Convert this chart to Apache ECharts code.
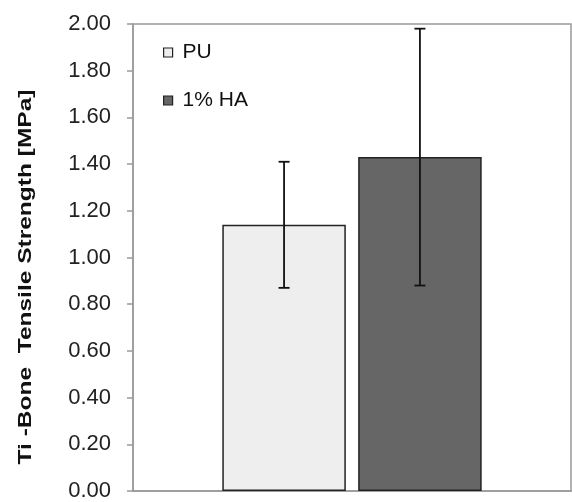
<!DOCTYPE html>
<html>
<head>
<meta charset="utf-8">
<script src="https://cdn.jsdelivr.net/npm/echarts@6/dist/echarts.min.js"></script>
<style>html,body{margin:0;padding:0;background:#fff;}#c{width:572px;height:502px;}</style>
</head>
<body>
<div id="c"></div>
<script>
var categories = [''];
var seriesNames = ['PU', '1% HA'];
var puValues = [1.14];
var haValues = [1.43];
var puErrors = [0.27];
var haErrors = [0.55];
var yTicks = [0, 0.2, 0.4, 0.6, 0.8, 1.0, 1.2, 1.4, 1.6, 1.8, 2.0];

var BAR_W = 0.282, BAR_GAP = 0.10;
function errSeries(name, vals, errs, idx) {
  return {
    type: 'custom',
    name: name + ' err',
    z: 10,
    silent: true,
    data: vals.map(function (v, i) { return [i, v, errs[i]]; }),
    renderItem: function (params, api) {
      var ci = api.value(0), v = api.value(1), e = api.value(2);
      var band = api.size([1, 0])[0];
      var bw = band * BAR_W, gap = bw * BAR_GAP;
      var total = 2 * bw + gap;
      var c = api.coord([ci, v]);
      var cx = c[0] - total / 2 + bw / 2 + idx * (bw + gap);
      var hi = api.coord([ci, v + e])[1], lo = api.coord([ci, v - e])[1];
      var cap = 5.5;
      var st = { stroke: '#111', lineWidth: 1.8 };
      return { type: 'group', children: [
        { type: 'line', shape: { x1: cx, y1: hi, x2: cx, y2: lo }, style: st },
        { type: 'line', shape: { x1: cx - cap, y1: hi, x2: cx + cap, y2: hi }, style: st },
        { type: 'line', shape: { x1: cx - cap, y1: lo, x2: cx + cap, y2: lo }, style: st }
      ]};
    }
  };
}

var chart = echarts.init(document.getElementById('c'));
chart.setOption({
  animation: false,
  backgroundColor: '#fff',
  textStyle: { fontFamily: 'Liberation Sans, Arial, sans-serif' },
  grid: { left: 133, right: 1, top: 24, bottom: 8, show: true, borderColor: '#999', borderWidth: 1.5 },
  legend: {
    orient: 'vertical', left: 158, top: 37, itemWidth: 9, itemHeight: 9, itemGap: 27,
    icon: 'rect',
    textStyle: { fontSize: 21, color: '#111', fontFamily: 'Liberation Sans, Arial, sans-serif', padding: [0, 0, 0, 5] },
    data: [
      { name: 'PU', itemStyle: { color: '#eeeeee', borderColor: '#222', borderWidth: 1.2 } },
      { name: '1% HA', itemStyle: { color: '#666666', borderColor: '#222', borderWidth: 1.2 } }
    ]
  },
  xAxis: {
    type: 'category', data: categories,
    axisLine: { lineStyle: { color: '#999', width: 1.5 } },
    axisTick: { show: false }, axisLabel: { show: false }
  },
  yAxis: {
    type: 'value', min: yTicks[0], max: yTicks[yTicks.length - 1], interval: 0.2,
    axisLine: { show: true, lineStyle: { color: '#999', width: 1.5 } },
    axisTick: { show: true, length: 6, lineStyle: { color: '#999', width: 1.5 } },
    splitLine: { show: false },
    axisLabel: { fontSize: 22, color: '#222', margin: 22, formatter: function (v) { return v.toFixed(2); } }
  },
  graphic: [{
    type: 'text', x: 26, y: 277, rotation: Math.PI / 2, scaleX: 1.29,
    style: { text: 'Ti -Bone  Tensile Strength [MPa]', fontSize: 19, fontWeight: 'bold', fill: '#111',
      fontFamily: 'Liberation Sans, Arial, sans-serif', textAlign: 'center', textVerticalAlign: 'middle' }
  }],
  series: [
    { type: 'bar', name: seriesNames[0], data: puValues, barWidth: (BAR_W * 100) + '%', barGap: (BAR_GAP * 100) + '%',
      itemStyle: { color: '#eeeeee', borderColor: '#222', borderWidth: 1.5 } },
    { type: 'bar', name: seriesNames[1], data: haValues, barWidth: (BAR_W * 100) + '%', barGap: (BAR_GAP * 100) + '%',
      itemStyle: { color: '#666666', borderColor: '#222', borderWidth: 1.5 } },
    errSeries(seriesNames[0], puValues, puErrors, 0),
    errSeries(seriesNames[1], haValues, haErrors, 1)
  ]
});
</script>
</body>
</html>
